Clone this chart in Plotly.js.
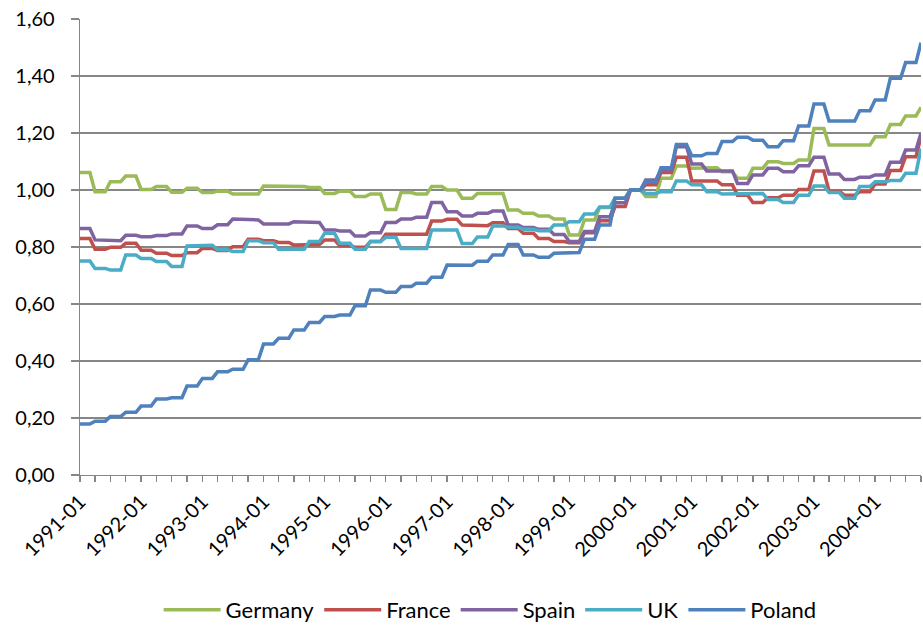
<!DOCTYPE html>
<html>
<head>
<meta charset="utf-8">
<script src="https://cdn.plot.ly/plotly-3.0.1.min.js"></script>
<style>html,body{margin:0;padding:0;background:#fff;}#chart{width:923px;height:625px;}</style>
</head>
<body>
<div id="chart"></div>
<script>
// Monthly values 1991-01 .. 2004-10 (index, 2000-01 = 1)
const germany = [
1.061,1.061,1.061,0.994,0.994,0.994,1.029,1.029,1.029,1.049,1.049,1.049,
1.002,1.002,1.002,1.012,1.012,1.012,0.992,0.992,0.992,1.006,1.006,1.006,
0.991,0.991,0.991,0.996,0.996,0.996,0.986,0.986,0.986,0.986,0.986,0.986,
1.014,1.014,1.014,1.015,1.015,1.015,1.012,1.012,1.012,1.009,1.009,1.009,
0.988,0.988,0.988,0.996,0.996,0.996,0.977,0.977,0.977,0.986,0.986,0.986,
0.932,0.932,0.932,0.991,0.991,0.991,0.986,0.986,0.986,1.012,1.012,1.012,
1.000,1.000,1.000,0.971,0.971,0.971,0.988,0.988,0.988,0.988,0.988,0.988,
0.930,0.930,0.930,0.918,0.918,0.918,0.909,0.909,0.909,0.898,0.898,0.898,
0.842,0.842,0.842,0.895,0.895,0.895,0.939,0.939,0.939,0.971,0.971,0.971,
1.000,1.000,1.000,0.977,0.977,0.977,1.041,1.041,1.041,1.084,1.084,1.084,
1.076,1.076,1.076,1.078,1.078,1.078,1.064,1.064,1.064,1.041,1.041,1.041,
1.076,1.076,1.076,1.099,1.099,1.099,1.093,1.093,1.093,1.105,1.105,1.105,
1.216,1.216,1.216,1.158,1.158,1.158,1.158,1.158,1.158,1.158,1.158,1.158,
1.187,1.187,1.187,1.230,1.230,1.230,1.260,1.260,1.260,1.290];

const france = [
0.830,0.830,0.830,0.792,0.792,0.792,0.799,0.799,0.799,0.813,0.813,0.813,
0.789,0.789,0.789,0.778,0.778,0.778,0.770,0.770,0.770,0.780,0.780,0.780,
0.795,0.795,0.795,0.788,0.788,0.788,0.801,0.801,0.801,0.827,0.827,0.827,
0.822,0.822,0.822,0.816,0.816,0.816,0.807,0.807,0.807,0.809,0.809,0.809,
0.825,0.825,0.825,0.804,0.804,0.804,0.799,0.799,0.799,0.819,0.819,0.819,
0.845,0.845,0.845,0.845,0.845,0.845,0.845,0.845,0.845,0.891,0.891,0.891,
0.897,0.897,0.897,0.877,0.877,0.877,0.875,0.875,0.875,0.885,0.885,0.885,
0.865,0.865,0.865,0.848,0.848,0.848,0.830,0.830,0.830,0.819,0.819,0.819,
0.815,0.815,0.815,0.850,0.850,0.850,0.892,0.892,0.892,0.942,0.942,0.942,
1.000,1.000,1.000,1.018,1.018,1.018,1.061,1.061,1.061,1.115,1.115,1.115,
1.032,1.032,1.032,1.032,1.032,1.032,1.018,1.018,1.018,0.982,0.982,0.982,
0.956,0.956,0.956,0.973,0.973,0.973,0.982,0.982,0.982,1.002,1.002,1.002,
1.067,1.067,1.067,0.996,0.996,0.996,0.982,0.982,0.982,0.994,0.994,0.994,
1.021,1.021,1.021,1.068,1.068,1.068,1.117,1.117,1.117,1.187];

const spain = [
0.865,0.865,0.865,0.825,0.825,0.825,0.822,0.822,0.822,0.841,0.841,0.841,
0.836,0.836,0.836,0.840,0.840,0.840,0.846,0.846,0.846,0.874,0.874,0.874,
0.865,0.865,0.865,0.878,0.878,0.878,0.898,0.898,0.898,0.895,0.895,0.895,
0.881,0.881,0.881,0.881,0.881,0.881,0.889,0.889,0.889,0.886,0.886,0.886,
0.860,0.860,0.860,0.856,0.856,0.856,0.839,0.839,0.839,0.850,0.850,0.850,
0.886,0.886,0.886,0.898,0.898,0.898,0.904,0.904,0.904,0.956,0.956,0.956,
0.924,0.924,0.924,0.909,0.909,0.909,0.918,0.918,0.918,0.926,0.926,0.926,
0.877,0.877,0.877,0.868,0.868,0.868,0.862,0.862,0.862,0.844,0.844,0.844,
0.819,0.819,0.819,0.854,0.854,0.854,0.906,0.906,0.906,0.955,0.955,0.955,
1.000,1.000,1.000,1.035,1.035,1.035,1.070,1.070,1.070,1.152,1.152,1.152,
1.091,1.091,1.091,1.067,1.067,1.067,1.067,1.067,1.067,1.023,1.023,1.023,
1.053,1.053,1.053,1.076,1.076,1.076,1.064,1.064,1.064,1.085,1.085,1.085,
1.115,1.115,1.115,1.056,1.056,1.056,1.037,1.037,1.037,1.045,1.045,1.045,
1.053,1.053,1.053,1.097,1.097,1.097,1.140,1.140,1.140,1.199];

const uk = [
0.751,0.751,0.751,0.725,0.725,0.725,0.719,0.719,0.719,0.772,0.772,0.772,
0.760,0.760,0.760,0.749,0.749,0.749,0.732,0.732,0.732,0.804,0.804,0.804,
0.806,0.806,0.806,0.790,0.790,0.790,0.784,0.784,0.784,0.822,0.822,0.822,
0.815,0.815,0.815,0.792,0.792,0.792,0.792,0.792,0.792,0.819,0.819,0.819,
0.848,0.848,0.848,0.813,0.813,0.813,0.792,0.792,0.792,0.819,0.819,0.819,
0.834,0.834,0.834,0.795,0.795,0.795,0.795,0.795,0.795,0.860,0.860,0.860,
0.860,0.860,0.860,0.812,0.812,0.812,0.835,0.835,0.835,0.874,0.874,0.874,
0.869,0.869,0.869,0.862,0.862,0.862,0.857,0.857,0.857,0.877,0.877,0.877,
0.889,0.889,0.889,0.916,0.916,0.916,0.940,0.940,0.940,0.971,0.971,0.971,
1.000,1.000,1.000,0.988,0.988,0.988,0.994,0.994,0.994,1.032,1.032,1.032,
1.018,1.018,1.018,0.994,0.994,0.994,0.986,0.986,0.986,0.988,0.988,0.988,
0.988,0.988,0.988,0.967,0.967,0.967,0.956,0.956,0.956,0.982,0.982,0.982,
1.014,1.014,1.014,0.991,0.991,0.991,0.971,0.971,0.971,1.012,1.012,1.012,
1.029,1.029,1.029,1.033,1.033,1.033,1.059,1.059,1.059,1.146];

const poland = [
0.179,0.179,0.179,0.189,0.189,0.189,0.205,0.205,0.205,0.220,0.220,0.220,
0.242,0.242,0.242,0.267,0.267,0.267,0.271,0.271,0.271,0.312,0.312,0.312,
0.339,0.339,0.339,0.362,0.362,0.362,0.371,0.371,0.371,0.404,0.404,0.404,
0.460,0.460,0.460,0.480,0.480,0.480,0.509,0.509,0.509,0.535,0.535,0.535,
0.556,0.556,0.556,0.561,0.561,0.561,0.594,0.594,0.594,0.649,0.649,0.649,
0.641,0.641,0.641,0.661,0.661,0.661,0.673,0.673,0.673,0.694,0.694,0.694,
0.737,0.737,0.737,0.736,0.736,0.736,0.750,0.750,0.750,0.772,0.772,0.772,
0.809,0.809,0.809,0.772,0.772,0.772,0.764,0.764,0.764,0.778,0.778,0.778,
0.781,0.781,0.781,0.827,0.827,0.827,0.877,0.877,0.877,0.971,0.971,0.971,
1.000,1.000,1.000,1.029,1.029,1.029,1.078,1.078,1.078,1.160,1.160,1.160,
1.120,1.120,1.120,1.128,1.128,1.128,1.170,1.170,1.170,1.185,1.185,1.185,
1.175,1.175,1.175,1.152,1.152,1.152,1.173,1.173,1.173,1.225,1.225,1.225,
1.302,1.302,1.302,1.242,1.242,1.242,1.242,1.242,1.242,1.278,1.278,1.278,
1.316,1.316,1.316,1.392,1.392,1.392,1.447,1.447,1.447,1.517];

const seriesNames = ["Germany","France","Spain","UK","Poland"];
const seriesColors = ["#9BBB59","#C0504D","#8064A2","#4BACC6","#4F81BD"];

// month categories 1991-01 ...
const months = [];
for (let i = 0; i < germany.length; i++) {
  const y = 1991 + Math.floor(i / 12), m = (i % 12) + 1;
  months.push(y + "-" + (m < 10 ? "0" + m : m) + "-01");
}

const data = [germany, france, spain, uk, poland].map((vals, k) => ({
  type: "scatter", mode: "lines", x: months, y: vals, name: seriesNames[k],
  line: {color: seriesColors[k], width: 3.5}
}));

const font = "Lato, 'Open Sans', sans-serif";
const layout = {
  width: 923, height: 625,
  margin: {l: 80, r: 2, t: 19, b: 150},
  paper_bgcolor: "#fff", plot_bgcolor: "#fff",
  separators: ",.",
  font: {family: font, size: 18, color: "#000"},
  showlegend: true,
  legend: {orientation: "h", x: 0.531, xanchor: "center", xref: "container",
           y: 0.024, yanchor: "middle", yref: "container",
           font: {family: font, size: 22, color: "#000"}, itemwidth: 57, tracegroupgap: 0},
  xaxis: {
    type: "date", range: [months[0], months[months.length - 1]], automargin: false,
    tick0: months[0], dtick: "M12", tickformat: "%Y-%m", tickangle: -45,
    showgrid: false, showline: true, linecolor: "#868686", linewidth: 1.3,
    ticks: "outside", ticklen: 6, tickcolor: "#868686", tickwidth: 1.3,
    minor: {dtick: "M3", tick0: months[0], ticks: "outside", ticklen: 6, tickcolor: "#868686", tickwidth: 1.3, showgrid: false},
    tickfont: {family: font, size: 20, color: "#000"}, zeroline: false
  },
  yaxis: {
    range: [0, 1.6], dtick: 0.2, tick0: 0, tickformat: ".2f", automargin: false,
    showgrid: true, gridcolor: "#868686", gridwidth: 1.3,
    showline: true, linecolor: "#868686", linewidth: 1.3,
    ticks: "outside", ticklen: 8, tickcolor: "#868686", tickwidth: 1.3,
    ticklabelstandoff: 12,
    tickfont: {family: font, size: 20, color: "#000"}, zeroline: false
  }
};

Plotly.newPlot("chart", data, layout, {displayModeBar: false, staticPlot: true});
</script>
</body>
</html>
